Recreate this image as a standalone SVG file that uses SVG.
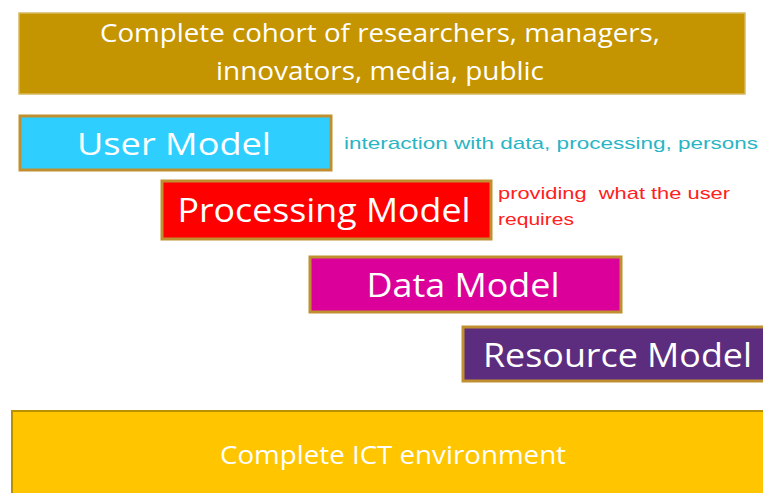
<svg xmlns="http://www.w3.org/2000/svg" width="763" height="493" viewBox="0 0 763 493">
<style>
.box{stroke:#c09030;stroke-width:3}
.t{font-family:"Open Sans","Liberation Sans",sans-serif;fill:#ffffff}
.n{font-family:"Liberation Sans",Arial,sans-serif;font-size:17px}
</style>
<rect width="763" height="493" fill="#ffffff"/>
<g id="cohort">
<rect x="19" y="13" width="726" height="81" fill="#c49500" stroke="#d8b860" stroke-width="1.5"/>
<text class="t" x="380" y="42" font-size="26" text-anchor="middle" textLength="560" lengthAdjust="spacingAndGlyphs">Complete cohort of researchers, managers,</text>
<text class="t" x="380" y="80" font-size="26" text-anchor="middle" textLength="328" lengthAdjust="spacingAndGlyphs">innovators, media, public</text>
</g>
<g id="user-model">
<rect class="box" x="20" y="116" width="311" height="54" fill="#2ecfff"/>
<text class="t" x="174" y="155" font-size="31" text-anchor="middle" textLength="194" lengthAdjust="spacingAndGlyphs">User Model</text>
<text class="n" x="344" y="149" fill="#2ab5c5" textLength="414" lengthAdjust="spacingAndGlyphs">interaction with data, processing, persons</text>
</g>
<g id="processing-model">
<rect class="box" x="162" y="181" width="329" height="58" fill="#ff0000"/>
<text class="t" x="324" y="222" font-size="32" text-anchor="middle" textLength="293" lengthAdjust="spacingAndGlyphs">Processing Model</text>
<text class="n" x="498" y="199" fill="#ff2020" style="white-space:pre" xml:space="preserve" textLength="232" lengthAdjust="spacingAndGlyphs">providing  what the user</text>
<text class="n" x="498" y="225" fill="#ff2020" textLength="76" lengthAdjust="spacingAndGlyphs">requires</text>
</g>
<g id="data-model">
<rect class="box" x="310" y="257" width="311" height="55" fill="#dc009a"/>
<text class="t" x="463" y="297" font-size="32" text-anchor="middle" textLength="193" lengthAdjust="spacingAndGlyphs">Data Model</text>
</g>
<g id="resource-model">
<rect class="box" x="463" y="327" width="310" height="54" fill="#5c2d7e"/>
<text class="t" x="483" y="367" font-size="32" textLength="269" lengthAdjust="spacingAndGlyphs">Resource Model</text>
</g>
<g id="ict">
<rect x="12" y="411" width="760" height="90" fill="#ffc600" stroke="#b89000" stroke-width="2"/>
<text class="t" x="393" y="464" font-size="26" text-anchor="middle" textLength="346" lengthAdjust="spacingAndGlyphs">Complete ICT environment</text>
</g>
<g id="connectors"/>
</svg>
